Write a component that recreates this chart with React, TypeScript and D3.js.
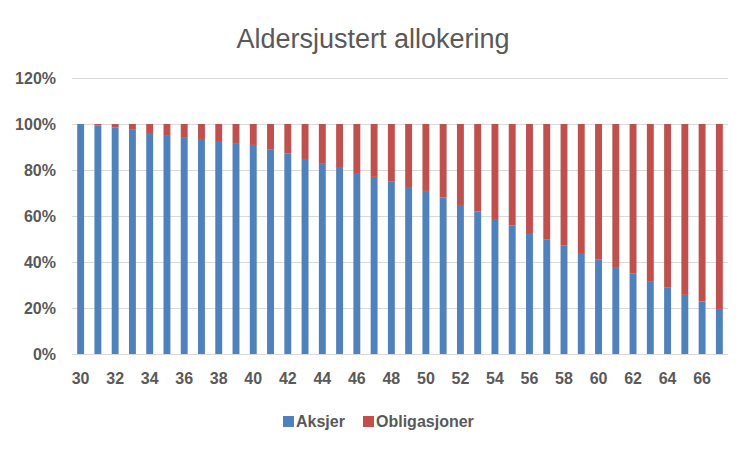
import React, { useRef, useEffect } from "react";
import * as d3 from "d3";

// alder 30-67
const ages = [
  30, 31, 32, 33, 34, 35, 36, 37, 38, 39, 40, 41, 42, 43, 44, 45, 46, 47, 48,
  49, 50, 51, 52, 53, 54, 55, 56, 57, 58, 59, 60, 61, 62, 63, 64, 65, 66, 67,
];
// andel aksjer (%)
const aksjer = [
  100, 99.3, 98.4, 97.5, 96.1, 95.2, 94.3, 93.5, 92.6, 91.7, 90.9, 88.8, 87.1,
  84.8, 83.0, 80.9, 78.7, 77.0, 74.9, 72.6, 70.9, 68.0, 64.8, 61.9, 58.7, 55.8,
  52.6, 49.7, 47.1, 43.9, 41.0, 37.8, 34.9, 31.7, 28.8, 25.7, 22.8, 19.6,
];
// andel obligasjoner (%)
const obligasjoner = aksjer.map((v) => 100 - v);
const yTicks = [0, 20, 40, 60, 80, 100, 120];
const seriesNames = ["Aksjer", "Obligasjoner"];
const colors = ["#4F81BD", "#C0504D"];

export default function App() {
  const ref = useRef<SVGSVGElement>(null);

  useEffect(() => {
    const width = 750;
    const height = 451;
    const margin = { top: 78, right: 22, bottom: 97, left: 72 };
    const font = "'Liberation Sans', Arial, sans-serif";
    const textColor = "#595959";

    const svg = d3.select(ref.current);
    svg.selectAll("*").remove();

    svg
      .append("rect")
      .attr("width", width)
      .attr("height", height)
      .attr("fill", "#fff");

    const x = d3
      .scaleBand<string>()
      .domain(ages.map(String))
      .range([margin.left, width - margin.right])
      .paddingInner(0.6)
      .paddingOuter(0.3);

    const y = d3
      .scaleLinear()
      .domain([0, 120])
      .range([height - margin.bottom, margin.top]);

    // tittel
    svg
      .append("text")
      .attr("x", 373)
      .attr("y", 48)
      .attr("text-anchor", "middle")
      .style("font-family", font)
      .style("font-size", "27px")
      .attr("fill", textColor)
      .text("Aldersjustert allokering");

    // rutenett
    svg
      .append("g")
      .selectAll("line")
      .data(yTicks)
      .enter()
      .append("line")
      .attr("x1", margin.left)
      .attr("x2", width - margin.right)
      .attr("y1", (d) => Math.round(y(d)) + 0.5)
      .attr("y2", (d) => Math.round(y(d)) + 0.5)
      .attr("stroke", "#D9D9D9")
      .attr("stroke-width", 1);

    // stablede søyler
    const rows = ages.map((a, i) => ({
      age: String(a),
      Aksjer: aksjer[i],
      Obligasjoner: obligasjoner[i],
    }));
    const stacked = d3.stack<any>().keys(seriesNames)(rows);

    svg
      .append("g")
      .selectAll("g")
      .data(stacked)
      .enter()
      .append("g")
      .attr("fill", (d, i) => colors[i])
      .selectAll("rect")
      .data((d) => d)
      .enter()
      .append("rect")
      .attr("x", (d: any) => x(d.data.age)!)
      .attr("width", x.bandwidth())
      .attr("y", (d) => y(d[1]))
      .attr("height", (d) => y(d[0]) - y(d[1]));

    // y-akse etiketter
    svg
      .append("g")
      .selectAll("text")
      .data(yTicks)
      .enter()
      .append("text")
      .attr("x", 56)
      .attr("y", (d) => y(d) + 6)
      .attr("text-anchor", "end")
      .style("font-family", font)
      .style("font-size", "16px")
      .style("font-weight", "bold")
      .attr("fill", textColor)
      .text((d) => d + "%");

    // x-akse etiketter (hver andre)
    svg
      .append("g")
      .selectAll("text")
      .data(ages.filter((a) => a % 2 === 0))
      .enter()
      .append("text")
      .attr("x", (d) => x(String(d))! + x.bandwidth() / 2)
      .attr("y", 384)
      .attr("text-anchor", "middle")
      .style("font-family", font)
      .style("font-size", "16px")
      .style("font-weight", "bold")
      .attr("fill", textColor)
      .text((d) => String(d));

    // forklaring
    const legendX = [283, 363];
    const legend = svg
      .append("g")
      .selectAll("g")
      .data(seriesNames)
      .enter()
      .append("g")
      .attr("transform", (d, i) => `translate(${legendX[i]}, 416)`);
    legend
      .append("rect")
      .attr("width", 11)
      .attr("height", 11)
      .attr("fill", (d, i) => colors[i]);
    legend
      .append("text")
      .attr("x", 13)
      .attr("y", 10.5)
      .style("font-family", font)
      .style("font-size", "16px")
      .style("font-weight", "bold")
      .attr("fill", textColor)
      .text((d) => d);
  }, []);

  return (
    <svg
      ref={ref}
      width={750}
      height={451}
      style={{ position: "absolute", left: 0, top: 0 }}
    />
  );
}
